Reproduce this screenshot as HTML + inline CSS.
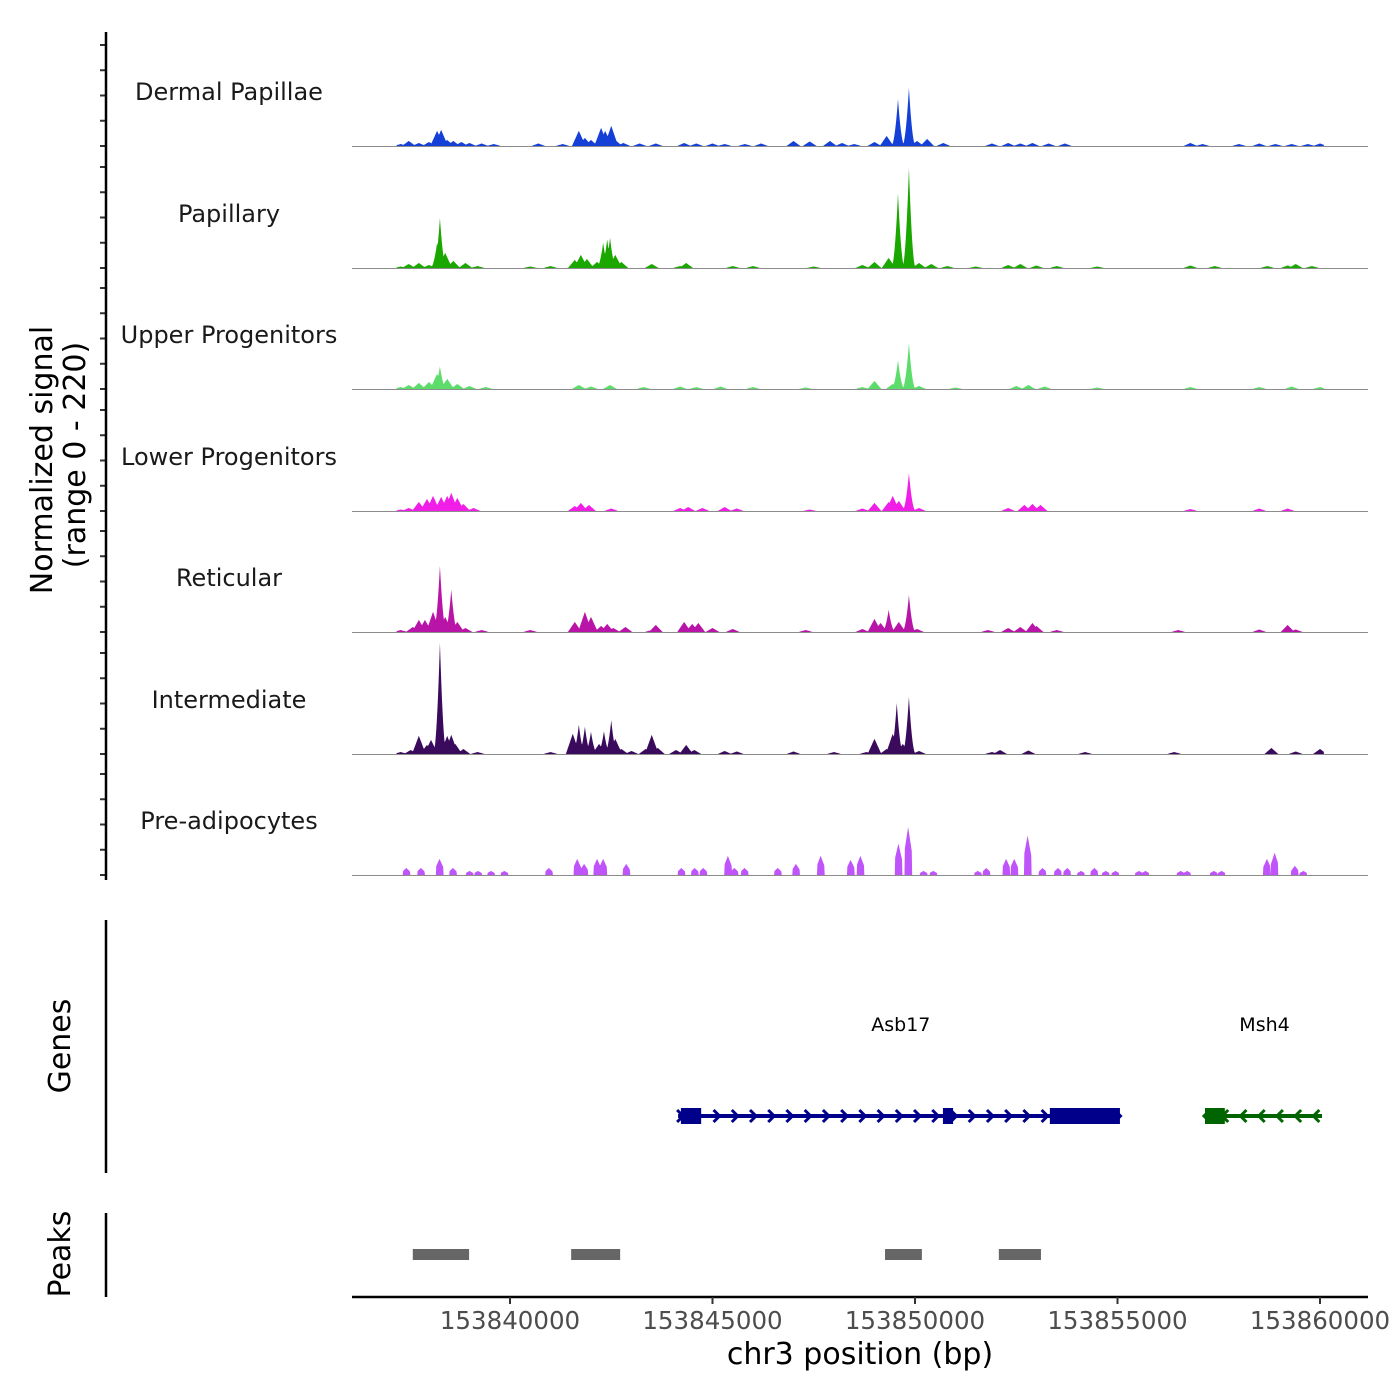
<!DOCTYPE html>
<html><head><meta charset="utf-8"><style>
body{margin:0;background:#fff}
svg{display:block;font-family:"DejaVu Sans","Liberation Sans",sans-serif}
</style></head><body>
<svg id="chart" width="1400" height="1400" viewBox="0 0 1400 1400">
<g id="tracks"></g>
<g id="axes"></g>
</svg>
<script>
// positions in kb relative to 153835000 bp; values in normalized signal units (0-220)
const trackNames = ["Dermal Papillae","Papillary","Upper Progenitors","Lower Progenitors","Reticular","Intermediate","Pre-adipocytes"];
const trackColors = ["#1440d8","#1aa800","#5cdc6a","#f01ee6","#b815a8","#3a0a5c","#c054fb"];
const dermalPos = [2.3,2.5,2.75,3.0,3.2,3.3,3.45,3.6,3.8,4.0,4.3,4.6,5.7,6.3,6.7,6.85,7.0,7.25,7.35,7.5,7.6,7.8,8.2,8.6,9.3,9.6,10.0,10.3,10.8,11.2,12.0,12.4,12.9,13.2,13.5,14.0,14.3,14.58,14.85,15.05,15.3,15.7,16.9,17.3,17.6,17.9,18.3,18.7,21.8,22.1,23.0,23.5,23.9,24.3,24.7,25.0];
const dermalVal = [4,10,6,8,30,32,12,10,8,6,5,4,5,4,30,16,12,36,30,40,12,6,5,5,6,5,5,4,4,5,10,9,10,6,4,8,20,93,115,10,14,6,5,6,5,6,5,5,6,4,4,5,4,4,4,5];
const papPos = [2.3,2.5,2.75,3.0,3.2,3.27,3.4,3.6,3.9,4.2,5.5,6.0,6.6,6.75,6.9,7.15,7.3,7.4,7.47,7.6,7.75,8.5,9.2,9.35,10.5,11.0,12.5,13.7,14.0,14.35,14.58,14.85,15.1,15.4,15.8,16.5,17.3,17.6,18.0,18.5,19.5,21.8,22.4,23.7,24.2,24.4,24.8];
const papVal = [3,8,10,6,50,99,30,14,10,4,3,4,16,26,18,12,50,57,60,26,12,8,4,10,4,4,3,6,12,20,148,198,10,8,4,3,6,8,5,4,3,5,4,4,5,8,4];
const upPos = [2.3,2.5,2.75,3.0,3.2,3.27,3.45,3.7,4.0,4.4,6.7,7.0,7.47,8.3,9.2,9.6,10.2,11.0,12.3,13.7,14.0,14.45,14.58,14.85,15.1,16.0,17.5,17.8,18.2,19.5,21.8,23.5,24.3,25.0];
const upVal = [4,8,12,14,30,45,20,10,6,4,8,5,8,4,5,4,5,4,3,4,16,10,57,91,6,3,6,8,5,3,4,4,5,4];
const lowPos = [2.3,2.5,2.75,2.95,3.1,3.3,3.45,3.55,3.7,3.85,4.1,6.6,6.75,6.95,7.5,9.2,9.4,9.75,10.3,10.6,12.4,13.7,14.0,14.35,14.45,14.6,14.85,15.1,17.3,17.7,17.9,18.1,21.8,23.5,24.2];
const lowVal = [3,6,18,24,30,28,30,36,26,14,6,10,16,12,5,6,8,6,8,5,3,5,16,18,30,20,75,6,6,12,14,12,4,5,5];
const retPos = [2.3,2.6,2.75,2.9,3.1,3.27,3.4,3.55,3.7,3.9,4.3,5.5,6.6,6.85,7.0,7.25,7.4,7.55,7.85,8.5,8.6,9.3,9.5,9.65,10.0,10.5,12.3,13.7,14.0,14.15,14.35,14.6,14.85,15.05,16.8,17.3,17.6,17.9,18.0,18.5,21.5,23.5,24.2,24.4];
const retVal = [4,10,24,24,40,131,30,84,20,8,4,4,20,40,30,12,16,8,10,4,14,20,16,18,8,6,4,6,26,18,44,20,73,6,4,8,10,18,12,4,4,5,14,5];
const intPos = [2.3,2.55,2.75,2.95,3.05,3.27,3.45,3.55,3.65,3.85,4.2,6.0,6.55,6.7,6.85,7.0,7.2,7.32,7.5,7.6,7.75,8.0,8.35,8.5,8.65,9.1,9.35,9.55,10.3,10.6,12.0,13.0,13.8,14.0,14.3,14.45,14.55,14.7,14.85,15.1,16.9,17.1,17.8,19.2,21.4,23.8,24.4,25.0];
const intVal = [4,8,36,18,28,220,36,38,20,10,4,4,40,58,54,44,20,45,67,30,10,6,10,38,12,8,18,8,6,5,5,4,4,30,10,40,101,20,113,6,4,8,7,4,4,12,5,10];
const prePos = [2.44,2.80,3.26,3.59,4.0,4.21,4.53,4.86,5.96,6.66,6.83,7.15,7.30,7.87,9.23,9.56,9.77,10.38,10.54,10.79,11.61,12.06,12.67,13.41,13.65,14.59,14.83,15.21,15.45,16.55,16.76,17.25,17.45,17.78,18.15,18.53,18.76,19.10,19.43,19.71,19.95,20.53,20.69,21.56,21.72,22.38,22.57,23.69,23.88,24.38,24.59];
const preVal = [14,14,32,14,8,8,8,8,14,32,22,32,32,22,14,14,14,38,14,14,14,22,38,30,38,62,95,8,8,8,14,32,32,78,14,14,14,8,14,8,8,8,8,8,8,8,8,32,44,18,8];
const trackPos = [dermalPos,papPos,upPos,lowPos,retPos,intPos,prePos];
const trackVal = [dermalVal,papVal,upVal,lowVal,retVal,intVal,preVal];
const xTicks = [153840000,153845000,153850000,153855000,153860000];
const yTickVals = [0,50,100,150,200];
const genes = [{name:"Asb17",start:9.15,end:20.06,strand:1,color:"#00008b",exons:[[9.22,9.72],[15.69,15.94],[18.33,20.06]],label:14.65},
               {name:"Msh4",start:22.16,end:25.05,strand:-1,color:"#006400",exons:[[22.16,22.65]],label:23.63}];
const peakStarts = [2.60,6.51,14.26,17.07];
const peakEnds = [3.99,7.72,15.17,18.11];

const NS="http://www.w3.org/2000/svg";
const L=352,R=1368,X0=1.099,X1=26.185;
function sx(kb){return L+(kb-X0)/(X1-X0)*(R-L);}
function sbp(bp){return sx(bp/1000-153835);}
const baselines=[146,268,389,511,632,754,875];
const YS=0.505;
function mk(tag,attrs,parent){const e=document.createElementNS(NS,tag);for(const k in attrs)e.setAttribute(k,attrs[k]);parent.appendChild(e);return e;}
const tg=document.getElementById('tracks'), ag=document.getElementById('axes');

trackNames.forEach((nm,i)=>{
  const b=baselines[i], pos=trackPos[i], val=trackVal[i];
  const w = i===6?0.09:0.17;
  let d="M"+sx(2.2)+","+b;
  for(let k=2.2;k<=25.1;k+=0.01){
    let v=0;
    for(let j=0;j<pos.length;j++){
      const dd=Math.abs(k-pos[j]);
      if(i===6){ if(dd<w) v=Math.max(v,val[j]*(1-0.5*dd/w)); }
      else if(dd<w){ const f=1-dd/w; v=Math.max(v,val[j]*f*f); if(val[j]<=40) v=Math.max(v,val[j]*f); }
    }
    d+=" L"+sx(k).toFixed(2)+","+(b-v*YS).toFixed(2);
  }
  d+=" L"+sx(25.1)+","+b+"Z";
  const p=mk('path',{d:d,fill:trackColors[i]},tg);
  
  
  const bl=mk('line',{x1:L,x2:R,y1:b+0.5,y2:b+0.5,stroke:'#8c8c8c','stroke-width':1},tg);
  
  
  const t=mk('text',{x:229,y:b-46,'text-anchor':'middle','font-size':24,fill:'#1a1a1a'},tg);
  t.textContent=nm;
  
  
  yTickVals.forEach(v=>{
    const y=b-v*YS;
    const tk=mk('line',{x1:100,x2:106,y1:y,y2:y,stroke:'#333','stroke-width':2},ag);
    
    
  });
});
mk('line',{x1:106,x2:106,y1:32,y2:880,stroke:'#000','stroke-width':2.5},ag);
let yt=mk('text',{transform:'translate(52,460) rotate(-90)','text-anchor':'middle','font-size':30,fill:'#000'},ag);
yt.textContent="Normalized signal";


yt=mk('text',{transform:'translate(85,455) rotate(-90)','text-anchor':'middle','font-size':30,fill:'#000'},ag);
yt.textContent="(range 0 - 220)";



mk('line',{x1:106,x2:106,y1:920,y2:1173,stroke:'#000','stroke-width':2.5},ag);
let gt=mk('text',{transform:'translate(70,1046) rotate(-90)','text-anchor':'middle','font-size':30,fill:'#000'},ag);
gt.textContent="Genes";


genes.forEach(g=>{
  const gy=1116;
  const ln=mk('line',{x1:sx(g.start),x2:sx(g.end),y1:gy,y2:gy,stroke:g.color,'stroke-width':4},tg);
  
  
  for(let k=g.start+0.05;k<=g.end;k+=0.45){
    const x=sx(k);
    const c=mk('path',{d:g.strand>0?`M${x-3},${gy-6} L${x+3},${gy} L${x-3},${gy+6}`:`M${x+3},${gy-6} L${x-3},${gy} L${x+3},${gy+6}`,stroke:g.color,'stroke-width':3,fill:'none'},tg);
    
    
  }
  g.exons.forEach(e=>{
    const r=mk('rect',{x:sx(e[0]),y:gy-8,width:sx(e[1])-sx(e[0]),height:16,fill:g.color},tg);
    
    
  });
  const lt=mk('text',{x:sx(g.label),y:1031,'text-anchor':'middle','font-size':19,fill:'#000'},tg);
  lt.textContent=g.name;
  
  
});

mk('line',{x1:106,x2:106,y1:1213,y2:1297,stroke:'#000','stroke-width':2.5},ag);
let pt=mk('text',{transform:'translate(70,1254) rotate(-90)','text-anchor':'middle','font-size':30,fill:'#000'},ag);
pt.textContent="Peaks";


peakStarts.forEach((s,i)=>{
  const r=mk('rect',{x:sx(s),y:1249,width:sx(peakEnds[i])-sx(s),height:11,fill:'#666'},tg);
  
  
});

mk('line',{x1:L,x2:R,y1:1297,y2:1297,stroke:'#000','stroke-width':2.5},ag);
xTicks.forEach(v=>{
  const x=sbp(v);
  const tk=mk('line',{x1:x,x2:x,y1:1297,y2:1304,stroke:'#333','stroke-width':2},ag);
  
  
  const t=mk('text',{x:x,y:1329,'text-anchor':'middle','font-size':24.5,fill:'#4d4d4d'},ag);
  t.textContent=v;
  
  
});
const xt=mk('text',{x:860,y:1364,'text-anchor':'middle','font-size':30,fill:'#000'},ag);
xt.textContent="chr3 position (bp)";


</script>
</body></html>
